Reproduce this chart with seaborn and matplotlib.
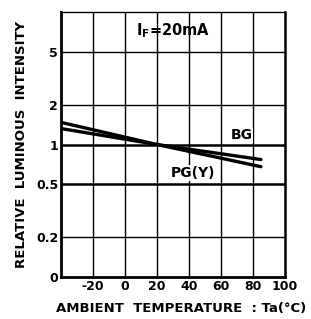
import numpy as np
import pandas as pd
import seaborn as sns
import matplotlib.pyplot as plt
from matplotlib.ticker import FixedLocator, NullLocator

temps = [-40, 20, 85]
bg_vals = [1.32, 1.0, 0.77]
pg_vals = [1.47, 1.0, 0.68]
x_ticks = [-20, 0, 20, 40, 60, 80, 100]
y_ticks = [0.1, 0.2, 0.5, 1, 2, 5]
y_labels = ['0', '0.2', '0.5', '1', '2', '5']

df = pd.DataFrame({
  'temp': temps * 2,
  'rel': bg_vals + pg_vals,
  'led': ['BG'] * len(temps) + ['PG(Y)'] * len(temps),
})

sns.set_theme(style="white")
plt.rcParams['font.family'] = ['DejaVu Sans']
plt.rcParams['font.weight'] = 'bold'
plt.rcParams['axes.labelweight'] = 'bold'
plt.rcParams['axes.unicode_minus'] = False
plt.rcParams['text.color'] = 'black'

fig = plt.figure(figsize=(3.11, 3.19), dpi=100)
ax = fig.add_axes([0.196, 0.132, 0.72, 0.830])

sns.lineplot(data=df, x='temp', y='rel', units='led', estimator=None,
             color='black', linewidth=2.4, ax=ax, legend=False)

ax.set_yscale('log')
ax.set_xlim(-40, 100)
ax.set_ylim(0.1, 10)
ax.xaxis.set_major_locator(FixedLocator(x_ticks))
ax.yaxis.set_major_locator(FixedLocator(y_ticks))
ax.yaxis.set_minor_locator(NullLocator())
ax.set_yticklabels(y_labels)
ax.tick_params(axis='both', length=0, pad=2, labelsize=9, colors='black')

for v in x_ticks[:-1]:
  ax.axvline(v, color='black', linewidth=1.0)
for v in y_ticks[1:]:
  lw = 1.8 if v in (0.5, 1) else 1.0
  ax.axhline(v, color='black', linewidth=lw)

for side, lw in [('left', 2.0), ('bottom', 2.0), ('right', 1.8), ('top', 1.0)]:
  ax.spines[side].set_color('black')
  ax.spines[side].set_linewidth(lw)
  ax.spines[side].set_visible(True)

ax.text(30, 7.3, r'I$_\mathregular{F}$=20mA', ha='center', va='center', fontsize=10.5)
ax.text(73, 1.17, 'BG', ha='center', va='center', fontsize=10,
        bbox=dict(facecolor='white', edgecolor='none', pad=0.5))
ax.text(42.5, 0.61, 'PG(Y)', ha='center', va='center', fontsize=10,
        bbox=dict(facecolor='white', edgecolor='none', pad=0.5))

ax.set_xlabel('AMBIENT  TEMPERATURE  : Ta(\u00b0C)', fontsize=9.5, color='black')
ax.xaxis.set_label_coords(0.535, -0.095)
ax.set_ylabel('RELATIVE  LUMINOUS  INTENSITY', fontsize=9.5, labelpad=6, color='black')

fig.savefig('out.png', dpi=100, facecolor='white')
